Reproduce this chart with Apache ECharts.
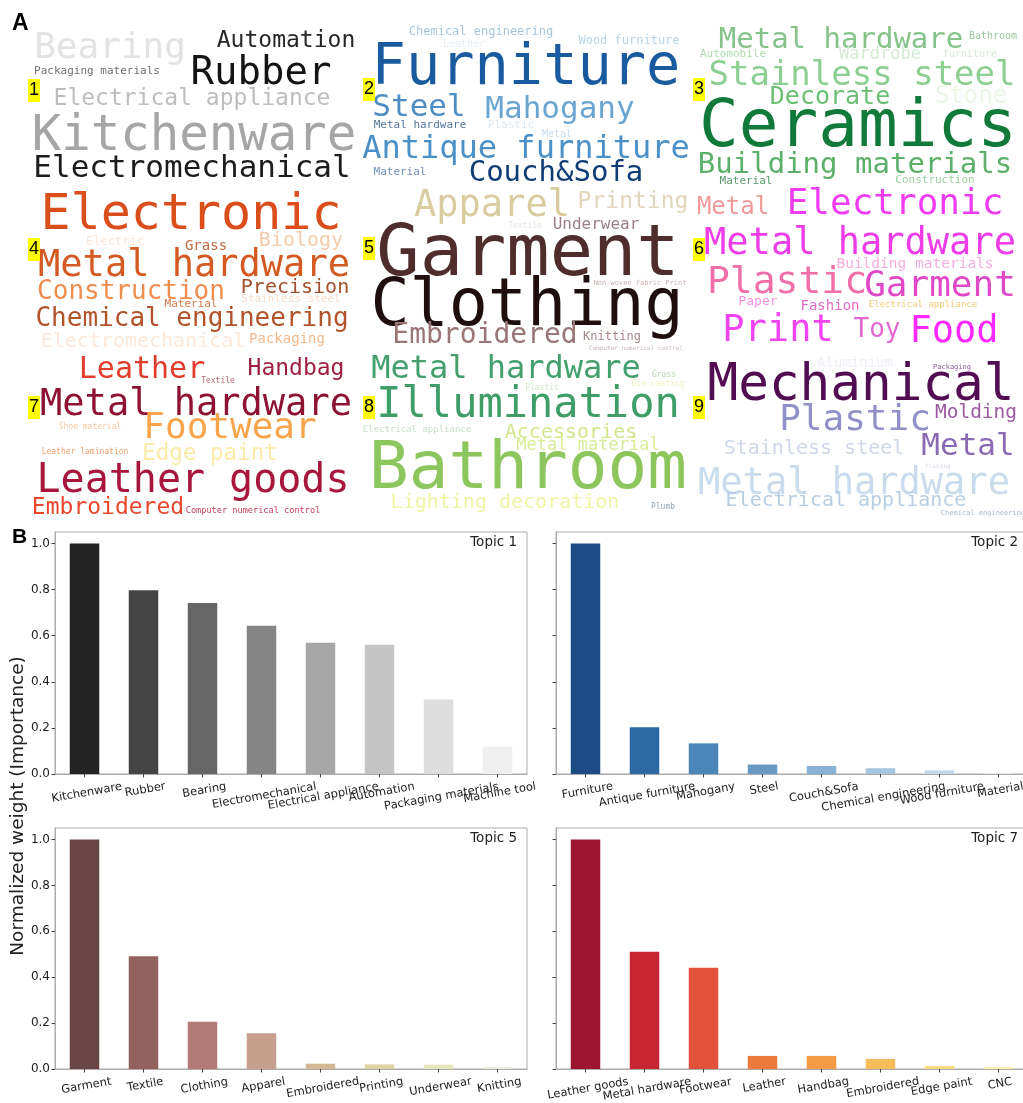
<!DOCTYPE html>
<html>
<head>
<meta charset="utf-8">
<script src="https://cdn.jsdelivr.net/npm/echarts@6/dist/echarts.min.js"></script>
<style>
html, body { margin: 0; padding: 0; background: #ffffff; }
#chart { width: 1023px; height: 1103px; }
</style>
</head>
<body>
<div id="chart"></div>
<script>
// ---------- Panel B: normalized keyword weights of four topics ----------
const topic1Terms = ['Kitchenware', 'Rubber', 'Bearing', 'Electromechanical', 'Electrical appliance', 'Automation', 'Packaging materials', 'Machine tool'];
const topic1Weights = [1.0, 0.797, 0.742, 0.643, 0.570, 0.561, 0.323, 0.119];

const topic2Terms = ['Furniture', 'Antique furniture', 'Mahogany', 'Steel', 'Couch&Sofa', 'Chemical engineering', 'Wood furniture', 'Material'];
const topic2Weights = [1.0, 0.203, 0.133, 0.041, 0.035, 0.025, 0.016, 0.004];

const topic5Terms = ['Garment', 'Textile', 'Clothing', 'Apparel', 'Embroidered', 'Printing', 'Underwear', 'Knitting'];
const topic5Weights = [1.0, 0.491, 0.206, 0.156, 0.023, 0.020, 0.019, 0.009];

const topic7Terms = ['Leather goods', 'Metal hardware', 'Footwear', 'Leather', 'Handbag', 'Embroidered', 'Edge paint', 'CNC'];
const topic7Weights = [1.0, 0.511, 0.441, 0.057, 0.057, 0.044, 0.013, 0.009];

const weightTicks = [0, 0.2, 0.4, 0.6, 0.8, 1.0];

// bar colour ramps (one per topic)
const topic1Colors = ['#232323', '#444444', '#666666', '#858585', '#a6a6a6', '#c4c4c4', '#dddddd', '#efefef'];
const topic2Colors = ['#1b4c85', '#2c69a3', '#4a86b8', '#6899c4', '#88b2d5', '#a6c6df', '#c4d8ea', '#e0eaf4'];
const topic5Colors = ['#6a4545', '#93625f', '#b37b77', '#c6a08c', '#d3b891', '#ddd3a4', '#e6e6bb', '#eeeedd'];
const topic7Colors = ['#9d1630', '#c62630', '#e2523a', '#ec7a3c', '#f39b44', '#f5bd5a', '#f8dc7a', '#fbf0b0'];

// ---------- Panel A: word clouds of topics 1-9 ----------
const cloud1Words = ['Bearing', 'Automation', 'Packaging materials', 'Rubber', 'Electrical appliance', 'Kitchenware', 'Electromechanical'];
const cloud2Words = ['Chemical engineering', 'Leather', 'Wood furniture', 'Furniture', 'Steel', 'Mahogany', 'Metal hardware', 'Plastic', 'Metal', 'Antique furniture', 'Material', 'Couch&Sofa'];
const cloud3Words = ['Metal hardware', 'Bathroom', 'Automobile', 'Wardrobe', 'furniture', 'Stainless steel', 'Decorate', 'Stone', 'Ceramics', 'Building materials', 'Material', 'Construction'];
const cloud4Words = ['Electronic', 'Electric', 'Grass', 'Biology', 'Metal hardware', 'Construction', 'Precision', 'Material', 'Stainless steel', 'Chemical engineering', 'Electromechanical', 'Packaging'];
const cloud5Words = ['Apparel', 'Printing', 'Underwear', 'Textile', 'Garment', 'Non-woven fabric Print', 'Clothing', 'Embroidered', 'Knitting', 'Computer numerical control'];
const cloud6Words = ['Metal', 'Electronic', 'Metal hardware', 'Building materials', 'Plastic', 'Garment', 'Paper', 'Fashion', 'Electrical appliance', 'Print', 'Toy', 'Food'];
const cloud7Words = ['Leather', 'Handbag', 'Textile', 'Metal hardware', 'Shoe material', 'Footwear', 'Leather lamination', 'Edge paint', 'Leather goods', 'Embroidered', 'Computer numerical control'];
const cloud8Words = ['Metal hardware', 'Grass', 'Die casting', 'Plastic', 'Illumination', 'Electrical appliance', 'Accessories', 'Metal material', 'Bathroom', 'Lighting decoration', 'Plumb'];
const cloud9Words = ['Aluminium', 'Packaging', 'Mechanical', 'Plastic', 'Molding', 'Stainless steel', 'Metal', 'Fishing', 'Metal hardware', 'Electrical appliance', 'Chemical engineering'];

// placement of every word inside its cloud cell: [x, y, font size, colour]
const cloud1Layout = [[80, 24, 36, '#e3e3e3'], [256, 16, 23, '#262626'], [67, 46, 11, '#707070'], [231, 49, 39, '#141414'], [162, 74, 23, '#bdbdbd'], [164, 112, 49, '#a6a6a6'], [162, 144, 31, '#1c1c1c']];
const cloud2Layout = [[119, 7, 12, '#a6c6e0'], [102, 19, 10, '#e8eef5'], [267, 16, 12, '#b8d3e8'], [164, 44, 57, '#1a5a9e'], [57, 83, 31, '#4d8dc4'], [198, 85, 31, '#6aa5d2'], [58, 100, 11, '#5678a0'], [149, 100, 11, '#dde8f2'], [195, 109, 10, '#ccdcea'], [164, 125, 32, '#4c90c8'], [38, 147, 11, '#7091b8'], [194, 148, 29, '#0e3d75']];
const cloud3Layout = [[149, 15, 29, '#86c38b'], [301, 11, 10, '#99c99c'], [41, 29, 11, '#b0dab0'], [188, 30, 17, '#d5ecd3'], [278, 29, 10, '#d7ecd5'], [170, 51, 34, '#8dcf92'], [138, 72, 25, '#6bbf73'], [279, 72, 24, '#eaf6e6'], [166, 104, 66, '#117a3a'], [163, 140, 29, '#5cb06a'], [54, 156, 11, '#5a9a6a'], [243, 155, 11, '#9ccf9c']];
const cloud4Layout = [[161, 28, 50, '#d94e1a'], [85, 54, 12, '#fae6d8'], [176, 58, 14, '#c0673e'], [271, 53, 20, '#f5cba8'], [164, 78, 37, '#d45a22'], [101, 104, 26, '#f08c4e'], [265, 100, 20, '#a5502c'], [161, 116, 11, '#d67a48'], [261, 111, 11, '#f7dccb'], [162, 131, 26, '#b2532b'], [113, 154, 20, '#fde8da'], [257, 151, 14, '#f3b88a']];
const cloud5Layout = [[130, 18, 37, '#d9cc9f'], [271, 14, 23, '#e2d5bd'], [234, 37, 16, '#9c7f86'], [163, 38, 8, '#e8e2dc'], [166, 68, 72, '#4f2d2d'], [278, 95, 7, '#c8b0b0'], [165, 120, 65, '#1e0e0e'], [123, 148, 28, '#9a7676'], [250, 149, 12, '#a48888'], [274, 160, 6, '#c8b8b8']];
const cloud6Layout = [[41, 20, 24, '#f29a9a'], [203, 17, 36, '#f03cf0'], [168, 56, 37, '#ee3ce8'], [223, 76, 14.5, '#f4aede'], [95, 95, 38, '#f06fa8'], [248, 99, 36, '#e048c8'], [66, 114, 13, '#f590e0'], [138, 118, 14, '#e26ac6'], [231, 117, 9, '#f5c870'], [86, 143, 37, '#f044f0'], [185, 142, 26, '#e468d0'], [262, 144, 37, '#ff28ff']];
const cloud7Layout = [[112, 17, 30, '#e23c2c'], [266, 16, 23, '#9e2040'], [188, 28, 8, '#b86a7a'], [166, 52, 37, '#8e1232'], [60, 74, 8, '#f8c8a0'], [200, 76, 36, '#f8a44a'], [55, 99, 8, '#f0a070'], [180, 101, 22.5, '#fdeaa8'], [163, 129, 40, '#a8163c'], [78, 155, 23, '#e8472e'], [223, 158, 8.6, '#c23e60']];
const cloud8Layout = [[144, 17, 32, '#43a06c'], [302, 22, 8, '#b8d8b0'], [296, 31, 8, '#f0f0c0'], [180, 35, 8, '#cfe6c8'], [166, 53, 42, '#3f9e68'], [55, 77, 9, '#c8e0c8'], [209, 80, 20, '#d2e78c'], [226, 93, 17, '#d8ec98'], [166, 118, 66, '#8cc65c'], [143, 150, 20, '#eff4a2'], [301, 154, 8, '#94a9bb']];
const cloud9Layout = [[163, 10, 14, '#f0eef6'], [260, 14, 7, '#8a5a9a'], [169, 34, 51, '#520c52'], [163, 68, 36, '#9090c8'], [284, 60, 19.5, '#9c5aa0'], [122, 96, 20, '#cfd8e8'], [276, 94, 31, '#8a6ab4'], [246, 113, 6, '#d8d8e8'], [162, 131, 37, '#c9dbec'], [154, 148, 20, '#b9cde2'], [291, 160, 7, '#a8b8d0']];

const clouds = [
  [cloud1Words, cloud1Layout], [cloud2Words, cloud2Layout], [cloud3Words, cloud3Layout],
  [cloud4Words, cloud4Layout], [cloud5Words, cloud5Layout], [cloud6Words, cloud6Layout],
  [cloud7Words, cloud7Layout], [cloud8Words, cloud8Layout], [cloud9Words, cloud9Layout]
];

const CELL_W = 330, CELL_H = 166;
const cellLeft = [30, 362, 692];
const cellTop = [25, 188, 353];

const grids = [], xAxes = [], yAxes = [], series = [];

clouds.forEach(([words, layout], k) => {
  const gi = grids.length;
  grids.push({ left: cellLeft[k % 3], top: cellTop[Math.floor(k / 3)], width: CELL_W, height: CELL_H, outerBoundsMode: 'none' });
  xAxes.push({ gridIndex: gi, type: 'value', min: 0, max: CELL_W, show: false });
  yAxes.push({ gridIndex: gi, type: 'value', min: 0, max: CELL_H, inverse: true, show: false });
  series.push({
    type: 'scatter', xAxisIndex: gi, yAxisIndex: gi, silent: true,
    symbolSize: 1, itemStyle: { color: 'rgba(255,255,255,0)', opacity: 1 },
    data: words.map((w, i) => ({
      value: [layout[i][0], layout[i][1]],
      label: {
        show: true, position: 'inside', formatter: w,
        fontFamily: 'DejaVu Sans Mono', fontSize: layout[i][2], color: layout[i][3],
        align: 'center', verticalAlign: 'middle'
      }
    }))
  });
});

// ---------- bar panels ----------
const TICK_FONT = 11.5;
const ROT = 10;
const measureCtx = document.createElement('canvas').getContext('2d');

function tickRich(terms) {
  measureCtx.font = TICK_FONT + 'px "DejaVu Sans"';
  const rich = {};
  terms.forEach((t, i) => {
    const w = measureCtx.measureText(t).width;
    rich['t' + i] = {
      fontFamily: 'DejaVu Sans', fontSize: TICK_FONT, color: '#222222',
      lineHeight: Math.round(TICK_FONT * 1.15 + w * Math.tan(ROT * Math.PI / 180))
    };
  });
  return rich;
}

const barPanels = [
  { terms: topic1Terms, weights: topic1Weights, colors: topic1Colors, left: 55, top: 532, height: 242, yLabels: true, name: 'Topic 1' },
  { terms: topic2Terms, weights: topic2Weights, colors: topic2Colors, left: 556, top: 532, height: 242, yLabels: false, name: 'Topic 2' },
  { terms: topic5Terms, weights: topic5Weights, colors: topic5Colors, left: 55, top: 828, height: 241, yLabels: true, name: 'Topic 5' },
  { terms: topic7Terms, weights: topic7Weights, colors: topic7Colors, left: 556, top: 828, height: 241, yLabels: false, name: 'Topic 7' }
];

const titles = [];

barPanels.forEach(p => {
  const gi = grids.length;
  grids.push({
    left: p.left, top: p.top, width: 472, height: p.height,
    show: true, borderColor: '#ababab', borderWidth: 1, backgroundColor: 'transparent',
    outerBoundsMode: 'none'
  });
  xAxes.push({
    gridIndex: gi, type: 'category', data: p.terms, boundaryGap: true,
    axisLine: { show: true, lineStyle: { color: '#ababab', width: 1 } },
    axisTick: { show: true, alignWithLabel: true, length: 3.5, lineStyle: { color: '#444444' } },
    axisLabel: {
      interval: 0, rotate: ROT, align: 'center', verticalAlign: 'top', margin: 6,
      formatter: (v, i) => '{t' + i + '|' + v + '}',
      rich: tickRich(p.terms)
    }
  });
  yAxes.push({
    gridIndex: gi, type: 'value', min: 0, max: 1.05,
    splitLine: { show: false },
    axisLine: { show: true, lineStyle: { color: '#ababab', width: 1 } },
    axisTick: { show: true, length: 3.5, customValues: weightTicks, lineStyle: { color: '#444444' } },
    axisLabel: {
      show: p.yLabels, customValues: weightTicks, margin: 5,
      formatter: v => v.toFixed(1),
      fontFamily: 'DejaVu Sans', fontSize: 12, color: '#222222'
    }
  });
  series.push({
    type: 'bar', xAxisIndex: gi, yAxisIndex: gi, barWidth: '50%', silent: true,
    data: p.weights.map((v, i) => ({ value: v, itemStyle: { color: p.colors[i] } }))
  });
  titles.push({
    text: p.name, right: 1023 - (p.left + 472 - 10), top: p.top + 3, padding: 0,
    textStyle: { fontFamily: 'DejaVu Sans', fontSize: 13.5, fontWeight: 'normal', color: '#222222' }
  });
});

// ---------- panel letters, cell badges, shared y title ----------
const badgeSpots = [[28, 79], [363, 78], [693, 78], [28, 238], [363, 237], [693, 238], [28, 396], [363, 396], [693, 396]];
const graphics = badgeSpots.map((s, i) => ({
  type: 'text', left: s[0], top: s[1], silent: true, z: 10,
  style: {
    text: String(i + 1), fontFamily: 'Liberation Sans', fontSize: 18, lineHeight: 23,
    fill: '#000000', backgroundColor: '#ffff00', padding: [0, 1]
  }
}));
graphics.push(
  { type: 'text', left: 12, top: 12, silent: true, style: { text: 'A', fontFamily: 'Liberation Sans', fontWeight: 'bold', fontSize: 23, fill: '#000000' } },
  { type: 'text', left: 12, top: 527, silent: true, style: { text: 'B', fontFamily: 'Liberation Sans', fontWeight: 'bold', fontSize: 21, fill: '#000000' } },
  {
    type: 'text', x: 18, y: 806, rotation: Math.PI / 2, silent: true,
    style: {
      text: 'Normalized weight (Importance)', fontFamily: 'DejaVu Sans', fontSize: 18.5,
      fill: '#222222', align: 'center', verticalAlign: 'middle'
    }
  }
);

const chart = echarts.init(document.getElementById('chart'), null, { renderer: 'canvas' });
chart.setOption({
  animation: false,
  backgroundColor: '#ffffff',
  title: titles,
  grid: grids,
  xAxis: xAxes,
  yAxis: yAxes,
  series: series,
  graphic: graphics
});
</script>
</body>
</html>
